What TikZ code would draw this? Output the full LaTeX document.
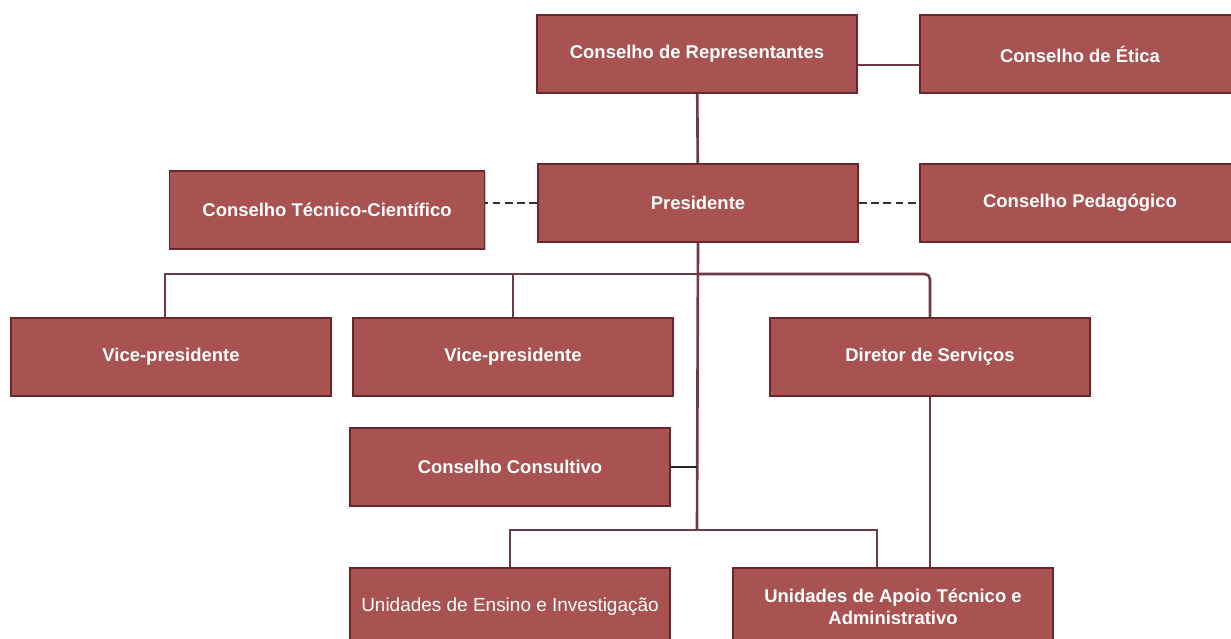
\documentclass[tikz,border=0pt]{standalone}
\usepackage{fontspec}
\setmainfont{Liberation Sans}
\usetikzlibrary{shadows}
\definecolor{boxfill}{RGB}{168,82,82}
\definecolor{boxedge}{RGB}{105,38,44}
\definecolor{linkcol}{RGB}{112,58,68}
\tikzset{
	orgbox/.style={draw=boxedge, line width=0.8pt, fill=boxfill, text=white,
		font=\fontsize{10.5}{12.5}\selectfont\bfseries, align=center,
		minimum width=6.4cm, minimum height=1.56cm, inner sep=2pt,
		drop shadow={shadow xshift=0.6pt, shadow yshift=-0.6pt, opacity=0.45}},
	link/.style={draw=linkcol, line width=1.5pt},
	dashlink/.style={draw=black!80, line width=1.5pt, dash pattern=on 4.5pt off 2.5pt},
}
\begin{document}
\begin{tikzpicture}[x=0.02cm, y=-0.02cm]
			\useasboundingbox (0,0) rectangle (1231,639);
			\clip (0,0) rectangle (1231,639);

			\node[orgbox] (repr)   at (697,54)    {Conselho de Representantes};
			\node[orgbox] (etica)  at (1080,54)   {Conselho de Ética};
			\node[orgbox, minimum width=6.3cm] (ctc) at (327,210) {Conselho Técnico-Científico};
			\node[orgbox] (pres)   at (698,203)   {Presidente};
			\node[orgbox] (pedag)  at (1080,203)  {Conselho Pedagógico};
			\node[orgbox] (vicea)  at (171,357)   {Vice-presidente};
			\node[orgbox] (viceb)  at (513,357)   {Vice-presidente};
			\node[orgbox] (dirserv) at (930,357)  {Diretor de Serviços};
			\node[orgbox] (consult) at (510,467)  {Conselho Consultivo};
			\node[orgbox, font=\fontsize{10.8}{12.5}\selectfont] (ensino) at (510,607) {Unidades de Ensino e Investigação};
			\node[orgbox] (apoio)  at (893,607)   {Unidades de Apoio Técnico e\\Administrativo};

			\coordinate (bus)  at (697,274);
			\coordinate (low)  at (697,530);

			\draw[link] (repr) -- (pres);
			\draw[link] ([yshift=-0.22cm]repr.east) -- ([yshift=-0.22cm]repr.east -| etica.west);
			\draw[dashlink] (pres.west) -- (pres.west -| ctc.east);
			\draw[dashlink] (pres.east) -- (pedag.west);

			\draw[link] (pres.south) -- (low);
			\draw[link] (vicea.north -| 165,0) |- (bus);
			\draw[link] (viceb.north) -- (viceb.north |- bus);
			\draw[link, rounded corners=3pt] (bus) -| (dirserv.north);
			\draw[link, draw=black!85] (consult.east) -- (consult.east -| low);
			\draw[link] (ensino.north) |- (low);
			\draw[link] (low) -| (apoio.north -| 877,0);
			\draw[link] (dirserv.south) -- (dirserv.south |- apoio.north);
\end{tikzpicture}
\end{document}
